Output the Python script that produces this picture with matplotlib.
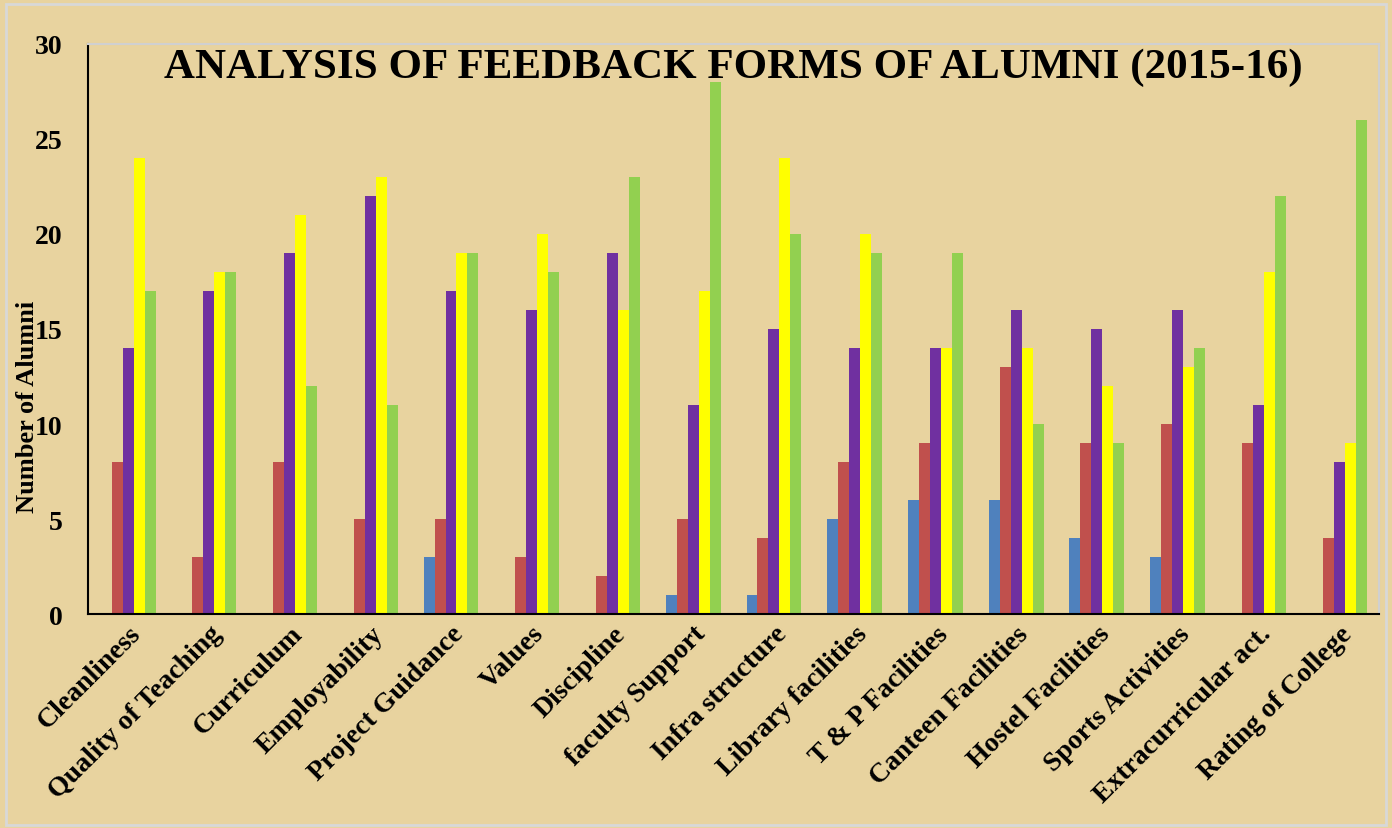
import matplotlib.pyplot as plt
import numpy as np

categories = ['Cleanliness', 'Quality of Teaching', 'Curriculum', 'Employability',
              'Project Guidance', 'Values', 'Discipline', 'faculty Support',
              'Infra structure', 'Library facilities', 'T & P Facilities',
              'Canteen Facilities', 'Hostel Facilities', 'Sports Activities',
              'Extracurricular act.', 'Rating of College']

blue   = [0, 0, 0, 0, 3, 0, 0, 1, 1, 5, 6, 6, 4, 3, 0, 0]
red    = [8, 3, 8, 5, 5, 3, 2, 5, 4, 8, 9, 13, 9, 10, 9, 4]
purple = [14, 17, 19, 22, 17, 16, 19, 11, 15, 14, 14, 16, 15, 16, 11, 8]
yellow = [24, 18, 21, 23, 19, 20, 16, 17, 24, 20, 14, 14, 12, 13, 18, 9]
green  = [17, 18, 12, 11, 19, 18, 23, 28, 20, 19, 19, 10, 9, 14, 22, 26]

series = [blue, red, purple, yellow, green]
colors = ['#4F81BD', '#C0504D', '#7030A0', '#FFFF00', '#92D050']

bg = '#E8D39F'
plt.rcParams['font.family'] = 'Liberation Serif'
plt.rcParams['font.weight'] = 'bold'

fig = plt.figure(figsize=(13.92, 8.29), dpi=100, facecolor=bg)
ax = fig.add_axes([0.063, 0.258, 0.928, 0.688])
ax.set_facecolor(bg)

x = np.arange(len(categories))
w = 0.136
for i, (vals, c) in enumerate(zip(series, colors)):
    ax.bar(x + (i - 2) * w, vals, w, color=c, zorder=2)

ax.set_xlim(-0.5, len(categories) - 0.5)
ax.set_ylim(0, 30)
ax.set_yticks(range(0, 31, 5))
ax.tick_params(axis='y', length=0, labelsize=20, pad=18)
ax.tick_params(axis='x', length=0, labelsize=20, pad=5)
ax.set_xticks(x)
ax.set_xticklabels(categories, rotation=45, ha='right', rotation_mode='anchor')
for lab in ax.get_xticklabels() + ax.get_yticklabels():
    lab.set_fontweight('bold')

# label sits partly over the tick numbers, as in the original
ax.set_ylabel('Number of Alumni', fontsize=19, fontweight='bold')
ax.yaxis.set_label_coords(-0.038, 0.365)

for s in ['top', 'right']:
    ax.spines[s].set_color('#d0d0d0')
    ax.spines[s].set_linewidth(1.5)
for s in ['left', 'bottom']:
    ax.spines[s].set_color('black')
    ax.spines[s].set_linewidth(1.5)

ax.text(0.5, 0.96, 'ANALYSIS OF FEEDBACK FORMS OF ALUMNI (2015-16)',
        transform=ax.transAxes, ha='center', va='center',
        fontsize=31, fontweight='bold')

fig.patches.append(plt.Rectangle((0.004, 0.004), 0.992, 0.99, transform=fig.transFigure,
                                 fill=False, edgecolor='#d8d8d8', linewidth=2))

fig.savefig('out.png', dpi=100, facecolor=bg)
